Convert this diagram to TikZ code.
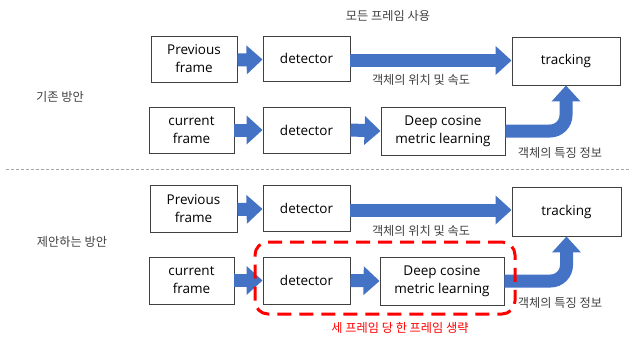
\documentclass[tikz,border=0pt]{standalone}
\usepackage{fontspec}
\setmainfont{Open Sans}
\newfontfamily\kr{Noto Sans CJK KR}
\usetikzlibrary{arrows.meta,calc}
\definecolor{arrowblue}{HTML}{4472C4}
\definecolor{labelgray}{HTML}{404040}
\tikzset{
  box/.style={draw=black!75, line width=0.9pt, fill=white, align=center,
    font=\fontsize{13.5}{18}\selectfont, inner sep=0pt},
  barrow/.style={draw=arrowblue, line width=13pt,
    -{Triangle[length=16pt,width=28pt]}},
  klabel/.style={font=\kr\fontsize{12.2}{14}\selectfont, text=labelgray, inner sep=0pt},
  redbox/.style={draw=red, line width=3pt, dash pattern=on 14pt off 8pt,
    rounded corners=13pt},
}
\begin{document}
\begin{tikzpicture}[x=1pt,y=-1pt]
\useasboundingbox (0,0) rectangle (637,341);

% separator
\draw[gray!70, line width=0.7pt, dash pattern=on 3pt off 2pt] (6,169) coordinate (sepL) -- (631,169) coordinate (sepR);

% ---------- top ----------
\node[box, minimum width=86pt, minimum height=46pt] (pf1) at (194,59) {Previous\\frame};
\node[box, minimum width=87pt, minimum height=45pt] (det1) at (306.5,58.5) {detector};
\node[box, minimum width=108pt, minimum height=48pt] (trk1) at (566,61) {tracking};
\node[box, minimum width=85pt, minimum height=46pt] (cf1) at (191.5,130) {current\\frame};
\node[box, minimum width=87pt, minimum height=46pt] (det2) at (306.5,130) {detector};
\node[box, minimum width=124pt, minimum height=48pt] (dcm1) at (443,131) {Deep cosine\\metric learning};

\draw[barrow] ($(pf1.east)+(0,1)$) -- ($(det1.west)+(0,1)$);
\draw[barrow] ($(det1.east)+(0,2)$) -- ($(trk1.west)+(0,-0.5)$);
\draw[barrow] (cf1.east) -- (det2.west);
\draw[barrow] (det2.east) -- (dcm1.west);
\draw[barrow, rounded corners=16pt] (dcm1.east) -| (trk1.south);

\node[klabel] (l1) at (388,16) {모든 프레임 사용};
\node[klabel] (l2) at (421,80) {객체의 위치 및 속도};
\node[klabel] (l3) at (560,153) {객체의 특징 정보};
\node[klabel] (l4) at (60,97) {기존 방안};

% ---------- bottom ----------
\node[box, minimum width=87pt, minimum height=47pt] (pf2) at (193.5,208.5) {Previous\\frame};
\node[box, minimum width=87pt, minimum height=46pt] (det3) at (306.5,208) {detector};
\node[box, minimum width=109pt, minimum height=49pt] (trk2) at (566.5,211.5) {tracking};
\node[box, minimum width=85pt, minimum height=47pt] (cf2) at (191.5,280.5) {current\\frame};
\node[box, minimum width=87pt, minimum height=47pt] (det4) at (306.5,280.5) {detector};
\node[box, minimum width=124pt, minimum height=48pt] (dcm2) at (442,281) {Deep cosine\\metric learning};

\draw[barrow] ($(pf2.east)+(0,1)$) -- ($(det3.west)+(0,1)$);
\draw[barrow] ($(det3.east)+(0,2)$) -- ($(trk2.west)+(0,-1.5)$);
\draw[barrow] (cf2.east) -- (det4.west);
\draw[barrow] (det4.east) -- (dcm2.west);
\draw[barrow, rounded corners=16pt] (dcm2.east) -| (trk2.south);

\node[redbox, minimum width=260pt, minimum height=72pt] (skip) at (385,278) {};

\node[klabel] (l5) at (421,231) {객체의 위치 및 속도};
\node[klabel] (l6) at (560,303) {객체의 특징 정보};
\node[klabel] (l7) at (72,242) {제안하는 방안};
\node[klabel, text=red] (l8) at (400,328) {세 프레임 당 한 프레임 생략};
\end{tikzpicture}
\end{document}
